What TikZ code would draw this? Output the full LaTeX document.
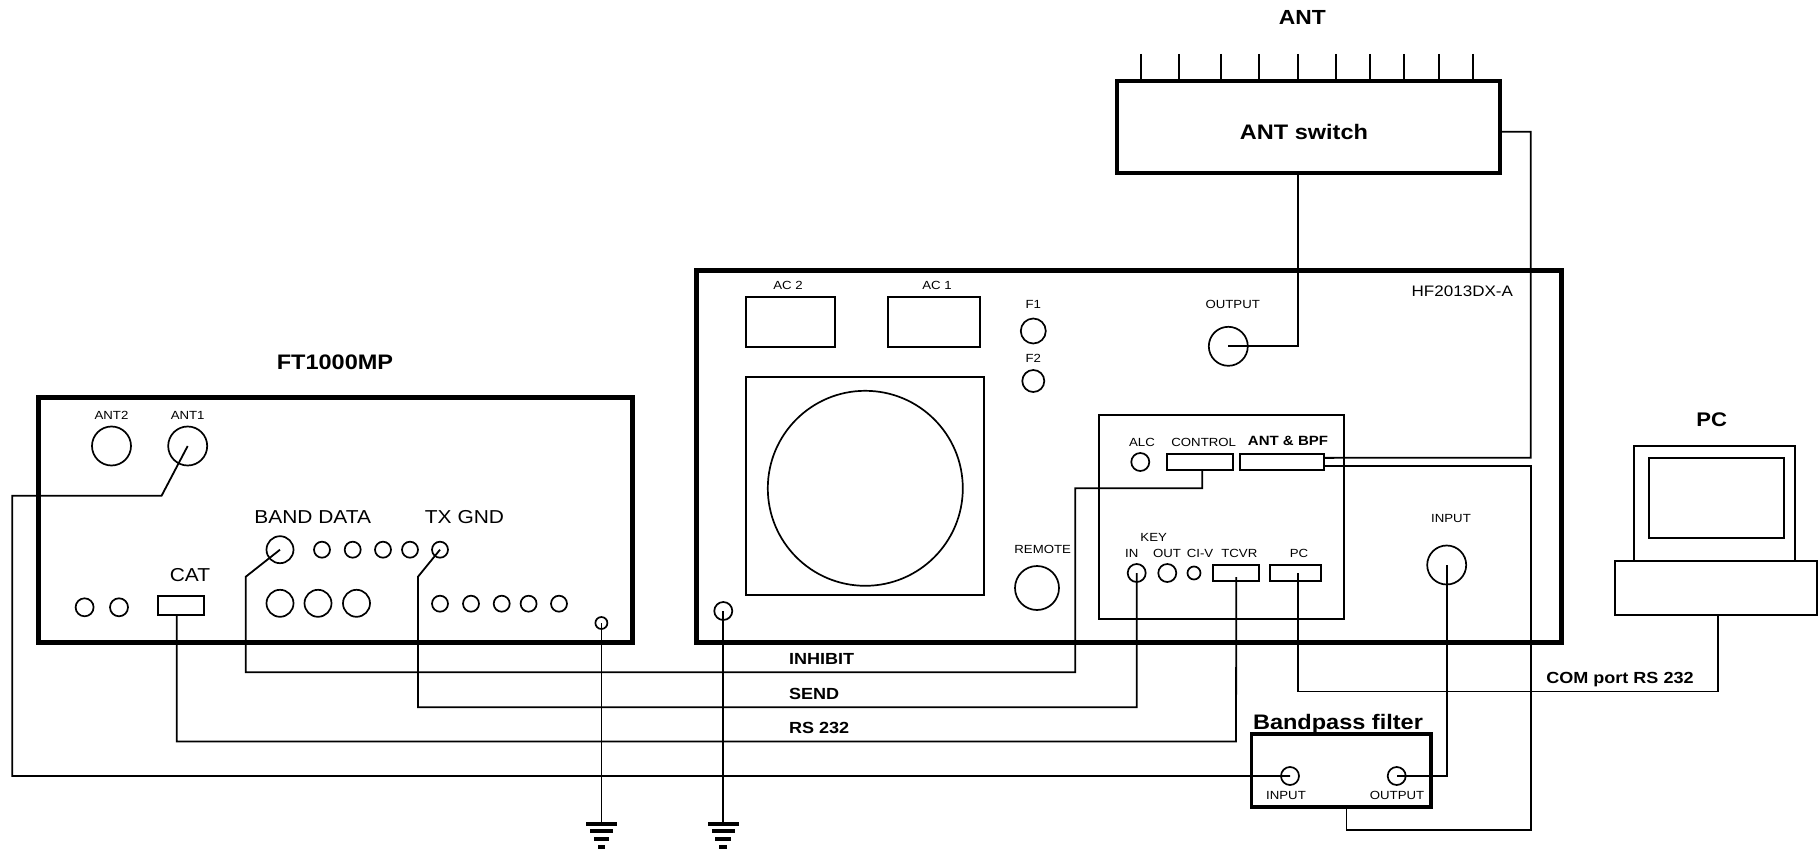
\documentclass[tikz,border=0pt]{standalone}
\usepackage{fontspec}
\setmainfont{Liberation Sans}[FakeStretch=1.12]
\usetikzlibrary{positioning}
\tikzset{
  panel/.style={rectangle,draw,line width=5pt,inner sep=0pt,outer sep=0pt,anchor=north west},
  socket/.style={rectangle,draw,line width=2pt,inner sep=0pt,outer sep=0pt,anchor=north west},
  port/.style={circle,draw,line width=1.7pt,inner sep=0pt,outer sep=0pt},
  wire/.style={draw,line width=1.8pt,line join=miter},
  lbl/.style={inner sep=0pt,outer sep=0pt,font=\fontsize{11.8}{14}\selectfont},
  biglbl/.style={inner sep=0pt,outer sep=0pt,font=\fontsize{18.7}{22}\selectfont},
  wirelbl/.style={inner sep=0pt,outer sep=0pt,font=\fontsize{16.1}{19}\selectfont\bfseries},
  heading/.style={inner sep=0pt,outer sep=0pt,font=\fontsize{21}{25}\selectfont\bfseries},
  gndbar/.style={rectangle,fill=black,inner sep=0pt,outer sep=0pt,minimum height=4pt}
}
\begin{document}
\begin{tikzpicture}[x=1pt,y=-1pt]
  \useasboundingbox (0,0) rectangle (1818,853);
  % FT1000MP
  \node[panel,minimum width=594pt,minimum height=245pt] (ft) at (38,397) {};
  \node[heading] (ftname) at (335,362.7) {FT1000MP};
  \node[port,minimum size=39pt] (ant2) at (111.5,446) {};
  \node[port,minimum size=39pt] (ant1) at (187.7,446) {};
  \node[lbl,above=7.2pt of ant2] (lant2) {ANT2};
  \node[lbl,above=7.2pt of ant1] (lant1) {ANT1};
  \node[biglbl] (lband) at (312.7,517) {BAND DATA};
  \node[biglbl] (ltxgnd) at (464.5,517) {TX GND};
  \node[biglbl] (lcat) at (190,575) {CAT};
  \node[socket,minimum width=46pt,minimum height=19.6pt] (cat) at (158,595.7) {};
  \node[port,minimum size=27pt] (band) at (280,549.7) {};
  \foreach \x [count=\i] in {322,352.7,383,410}
    \node[port,minimum size=16pt] (up\i) at (\x,549.7) {};
  \node[port,minimum size=16pt] (txgnd) at (440,549.7) {};
  \foreach \x [count=\i] in {84.6,119}
    \node[port,minimum size=18pt] (left\i) at (\x,607.3) {};
  \foreach \x [count=\i] in {280,318,356.5}
    \node[port,minimum size=27pt] (mid\i) at (\x,603.3) {};
  \foreach \x [count=\i] in {440,471,501.7,528.6,559}
    \node[port,minimum size=16pt] (low\i) at (\x,603.7) {};
  \node[port,minimum size=12pt] (ftgnd) at (601.4,623) {};
  % HF2013DX-A
  \node[panel,minimum width=864.6pt,minimum height=372pt] (hf) at (696.7,270) {};
  \node[font=\fontsize{15.2}{18}\selectfont,inner sep=0pt] (hfname) at (1462.3,291.7) {HF2013DX-A};
  \node[socket,minimum width=88.4pt,minimum height=50pt] (ac2) at (746.3,296.7) {};
  \node[socket,minimum width=92.3pt,minimum height=50pt] (ac1) at (887.7,296.7) {};
  \node[lbl] (lac2) at (788,285) {AC 2};
  \node[lbl] (lac1) at (937,285) {AC 1};
  \node[port,minimum size=25pt] (f1) at (1033.3,331) {};
  \node[port,minimum size=22pt] (f2) at (1033.3,381) {};
  \node[lbl,above=10.5pt of f1] (lf1) {F1};
  \node[lbl,above=7.6pt of f2] (lf2) {F2};
  \node[socket,minimum width=237.4pt,minimum height=218.3pt] (fanbox) at (746.3,377) {};
  \node[port,minimum size=195pt] (fan) at (865.3,488.3) {};
  \node[port,minimum size=44pt] (remote) at (1037,588) {};
  \node[lbl] (lremote) at (1042.7,549.3) {REMOTE};
  \node[port,minimum size=18pt] (hfgnd) at (723.3,611) {};
  \node[port,minimum size=39pt] (output) at (1228.3,346.3) {};
  \node[lbl] (loutput) at (1232.7,304) {OUTPUT};
  \node[port,minimum size=39pt] (input) at (1446.7,565) {};
  \node[lbl] (linput) at (1451,518.7) {INPUT};
  % inner rear panel
  \node[socket,minimum width=245pt,minimum height=203.4pt] (rear) at (1098.7,415.3) {};
  \node[port,minimum size=18pt] (alc) at (1140.3,462) {};
  \node[lbl] (lalc) at (1142,442) {ALC};
  \node[socket,minimum width=65.7pt,minimum height=15.7pt] (control) at (1167,454) {};
  \node[lbl] (lcontrol) at (1203.7,442) {CONTROL};
  \node[socket,minimum width=84.6pt,minimum height=15.7pt] (antbpf) at (1239.7,454) {};
  \node[inner sep=0pt,font=\fontsize{13.4}{16}\selectfont\bfseries] (lantbpf) at (1288,441) {ANT \& BPF};
  \node[lbl] (lkey) at (1153.7,537.7) {KEY};
  \node[port,minimum size=18pt] (keyin) at (1136.7,573) {};
  \node[port,minimum size=18pt] (keyout) at (1167.3,573) {};
  \node[port,minimum size=13pt] (civ) at (1194,573) {};
  \node[socket,minimum width=46pt,minimum height=16pt] (tcvr) at (1213.3,565) {};
  \node[socket,minimum width=50.4pt,minimum height=16pt] (pcport) at (1270.3,565) {};
  \node[lbl] (lin) at (1131.7,553.3) {IN};
  \node[lbl] (lout) at (1167,553.3) {OUT};
  \node[lbl] (lciv) at (1200,553.3) {CI-V};
  \node[lbl] (ltcvr) at (1239.3,553.3) {TCVR};
  \node[lbl] (lpc) at (1299,553.3) {PC};
  % ANT switch
  \node[panel,line width=4pt,minimum width=382.7pt,minimum height=92.3pt] (sw) at (1117.3,81) {};
  \node[heading] (lsw) at (1304,132.3) {ANT switch};
  \node[heading,font=\fontsize{20.4}{24}\selectfont\bfseries] (lant) at (1302.3,17.3) {ANT};
  \foreach \x [count=\i] in {1140.7,1179,1221,1259,1297.7,1335.7,1370,1404.3,1439,1473.3} {
    \coordinate (tip\i) at (\x,54);
    \draw[wire] (tip\i) -- (tip\i |- sw.north);
  }
  % bandpass filter
  \node[panel,line width=3.6pt,minimum width=179.4pt,minimum height=72.7pt] (bp) at (1251.3,734) {};
  \node[heading] (lbp) at (1338,724.5) {Bandpass filter};
  \node[port,minimum size=18pt] (bpin) at (1290,776) {};
  \node[port,minimum size=18pt] (bpout) at (1396.7,776) {};
  \node[lbl] (lbpin) at (1286,795) {INPUT};
  \node[lbl] (lbpout) at (1397,795) {OUTPUT};
  % PC
  \node[heading,font=\fontsize{19.7}{24}\selectfont\bfseries] (lpcname) at (1711.7,420) {PC};
  \node[socket,minimum width=160.7pt,minimum height=115.3pt] (monitor) at (1634,446) {};
  \node[socket,minimum width=134.4pt,minimum height=80pt] (screen) at (1649.3,458) {};
  \node[socket,minimum width=202.3pt,minimum height=54pt] (base) at (1615,561.3) {};
  % ground symbols
  \foreach \g/\x in {gnda/601.4,gndb/723.3} {
    \node[gndbar,minimum width=31pt] (\g) at (\x,823.7) {};
    \node[gndbar,minimum width=23pt] (\g2) at (\x,831.4) {};
    \node[gndbar,minimum width=15.7pt] (\g3) at (\x,839) {};
    \node[gndbar,minimum width=7.7pt] (\g4) at (\x,847) {};
  }
  % wire bends
  \coordinate (leftbus) at (12.2,776);
  \coordinate (inhbend) at (1075.3,672.3);
  \coordinate (sendbend) at (1136.7,707.2);
  \coordinate (rsbend) at (1236,741.5);
  \coordinate (combend) at (1718.3,691.5);
  \coordinate (rbusup) at (1530.7,457.8);
  \coordinate (rbusdn) at (1530.7,830);
  % wires
  \draw[wire] (ant1.center) -- ++(-26.1,49.7) -| (leftbus) -- (bpin.center);
  \draw[wire] (band.center) -- ++(-34.2,27) |- (inhbend) -- ++(0,-184) -| ([xshift=2.4pt]control.south);
  \draw[wire] (txgnd.center) -- ++(-22,27) |- (sendbend) -- (keyin.center);
  \draw[wire] ([xshift=-4.2pt]cat.south) |- (rsbend) -- ([yshift=-4pt]tcvr.center);
  \draw[wire] ([xshift=2.5pt]pcport.center) |- (combend) -- (combend |- base.south);
  \draw[wire] (input.center) |- (bpout.center);
  \draw[wire] (output.center) -| ([xshift=-11pt]sw.south);
  \draw[wire] ([yshift=-4.6pt]sw.east) -| (rbusup) -- ([yshift=4pt]antbpf.east);
  \draw[wire] ([yshift=-4pt]antbpf.east) -| (rbusdn) -| ([xshift=5.5pt]bp.south);
  \draw[wire] (ftgnd.center) -- (gnda);
  \draw[wire] (hfgnd.center) -- (gndb);
  % wire labels
  \node[wirelbl,anchor=west] (linhibit) at (789,659.3) {INHIBIT};
  \node[wirelbl,anchor=west] (lsend) at (789,693.7) {SEND};
  \node[wirelbl,anchor=west] (lrs) at (789,728.3) {RS 232};
  \node[wirelbl,anchor=west] (lcom) at (1546.3,679.5) {COM port RS 232};
\end{tikzpicture}
\end{document}
